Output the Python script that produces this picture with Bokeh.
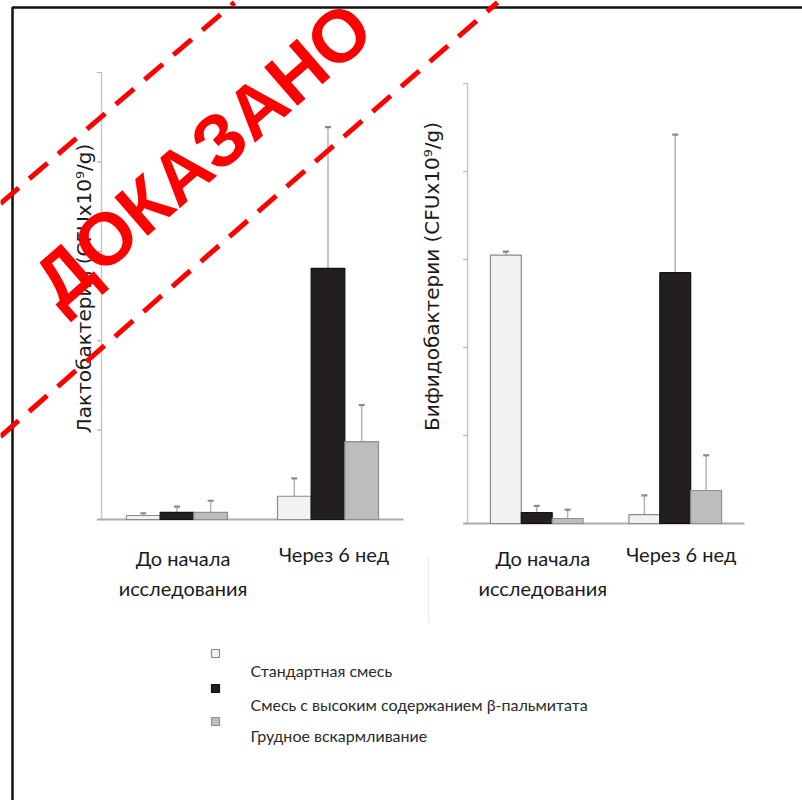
from bokeh.plotting import figure
from bokeh.models import Range1d
from bokeh.core.properties import value
from bokeh.embed import file_html
from bokeh.resources import INLINE
import math

# ---- data (CFU x10^9/g, in axis-tick units) ----
periods = ["До начала", "Через 6 нед"]
period_lines = [["До начала", "исследования"], ["Через 6 нед"]]
series_names = ["Стандартная смесь",
                "Смесь с высоким содержанием  β-пальмитата",
                "Грудное вскармливание"]

lacto_standard = [0.045, 0.26]
lacto_standard_err = [0.025, 0.20]
lacto_beta = [0.08, 2.81]
lacto_beta_err = [0.065, 1.58]
lacto_breast = [0.08, 0.87]
lacto_breast_err = [0.13, 0.41]

bifido_standard = [3.05, 0.10]
bifido_standard_err = [0.04, 0.22]
bifido_beta = [0.125, 2.85]
bifido_beta_err = [0.075, 1.57]
bifido_breast = [0.057, 0.375]
bifido_breast_err = [0.10, 0.40]

y_ticks = [0, 1, 2, 3, 4, 5]

W, H = 802, 800

fill_colors = ["#f2f2f2", "#231f20", "#bdbdbd"]
edge_colors = ["#8a8a8a", "#111111", "#8f8f8f"]

p = figure(width=W, height=H, output_backend="svg", toolbar_location=None,
           x_range=Range1d(0, W), y_range=Range1d(H, 0),
           x_axis_location=None, y_axis_location=None,
           min_border=0, outline_line_color=None,
           background_fill_color="white", border_fill_color="white")
p.grid.visible = False


def add_chart(name, box, means, errs, ylabel, label_x, label_y, label_size):
    x0, x1, y0, y1 = box
    xs = (x1 - x0) / 2.0
    ys = (y0 - y1) / 5.0
    p.extra_x_ranges[name + "x"] = Range1d(-0.5 - x0 / xs, -0.5 + (W - x0) / xs)
    p.extra_y_ranges[name + "y"] = Range1d(-(H - y0) / ys, y0 / ys)
    kw = dict(x_range_name=name + "x", y_range_name=name + "y")

    # axis line, ticks and baseline
    p.segment(x0=[-0.5], y0=[0], x1=[-0.5], y1=[5], line_color="#c9c9c9",
              line_width=1.5, **kw)
    p.scatter(x=[-0.5 - 2.0 / xs] * len(y_ticks), y=y_ticks, marker="dash",
              size=5, line_color="#b5b5b5", line_width=1.2, **kw)
    p.segment(x0=[-0.53], y0=[0], x1=[1.5], y1=[0], line_color="#ababab",
              line_width=2, **kw)

    bw = 0.223
    offsets = [-bw, 0.0, bw]
    for i in range(3):
        xs_i = [g + offsets[i] for g in range(len(periods))]
        tops = means[i]
        ends = [m + e for m, e in zip(means[i], errs[i])]
        p.segment(x0=xs_i, y0=tops, x1=xs_i, y1=ends, line_color="#b3b3b3",
                  line_width=1.5, **kw)
        p.scatter(x=xs_i, y=ends, marker="dash", size=6, line_color="#8a8a8a",
                  line_width=2.2, **kw)
        p.vbar(x=xs_i, top=tops, bottom=0, width=bw, fill_color=fill_colors[i],
               line_color=edge_colors[i], line_width=1.2, **kw)

    # category labels
    for g, lines in enumerate(period_lines):
        baselines = [557, 587] if len(lines) == 2 else [553]
        for txt, yb in zip(lines, baselines):
            p.text(x=[g], y=[yb], text=[txt], x_range_name=name + "x",
                   text_font=value("Lato"), text_font_size="20px",
                   text_color="#1a1a1a", text_align="center",
                   text_baseline="alphabetic", x_offset=6)

    p.text(x=[label_x], y=[label_y], text=[ylabel], angle=math.pi / 2,
           text_font=value("DejaVu Sans"), text_font_size=label_size,
           text_color="#1a1a1a", text_align="center", text_baseline="middle")


add_chart("lacto", (101, 403, 519, 72),
          [lacto_standard, lacto_beta, lacto_breast],
          [lacto_standard_err, lacto_beta_err, lacto_breast_err],
          "Лактобактерии (CFUx10⁹/g)", 83, 288, "20px")
add_chart("bifido", (467, 744, 523, 83),
          [bifido_standard, bifido_beta, bifido_breast],
          [bifido_standard_err, bifido_beta_err, bifido_breast_err],
          "Бифидобактерии (CFUx10⁹/g)", 431, 276, "20px")

# faint divider remnant
p.segment(x0=[428], y0=[556], x1=[428], y1=[622], line_color="#ececec",
          line_width=1.5)

# legend
leg_y = [653, 688, 721]
leg_text_y = [670, 704, 735]
p.rect(x=[215] * 3, y=leg_y, width=8, height=8, fill_color=fill_colors,
       line_color=["#8a8a8a", "#111111", "#8f8f8f"], line_width=1.2)
p.text(x=[250] * 3, y=leg_text_y, text=series_names, text_font=value("Lato"),
       text_font_size="16px", text_color="#2a2a2a", text_align="left",
       text_baseline="middle")

# frame
p.line(x=[12, 12, W], y=[H, 7, 7], line_color="#111111", line_width=2.5)

# stamp
red = "#ff0000"
p.segment(x0=[0, 0], y0=[203, 436], x1=[234, 497], y1=[2, 2], line_color=red,
          line_width=5, line_dash="24 14")
p.text(x=[202], y=[154], text=["ДОКАЗАНО"], angle=math.radians(41),
       text_font=value("Liberation Sans"), text_font_style="bold",
       text_font_size="74px", text_color=red, text_align="center",
       text_baseline="middle")

open("out.html", "w").write(file_html(p, INLINE))
